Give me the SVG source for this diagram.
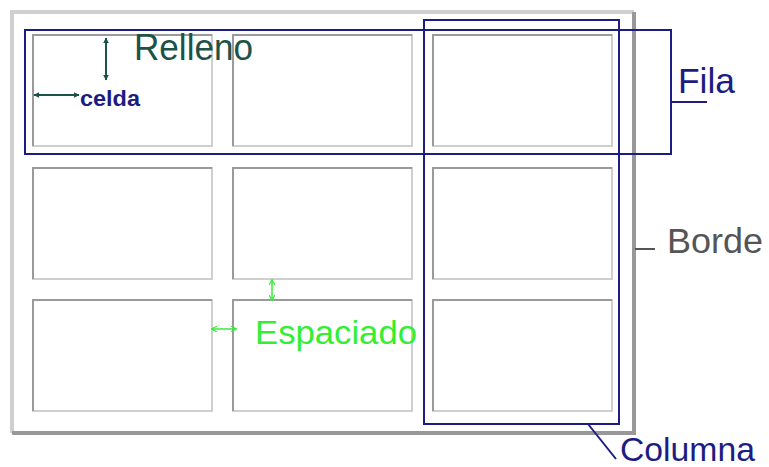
<svg xmlns="http://www.w3.org/2000/svg" width="769" height="467" viewBox="0 0 769 467">
<style>
.lt{fill:none;stroke:#d0d0d0;stroke-width:4}
.dk{fill:none;stroke:#989898;stroke-width:4}
.cl{fill:#fff;stroke:#cfcfcf;stroke-width:2}
.cd{fill:none;stroke:#9a9a9a;stroke-width:2}
.blue{fill:none;stroke:#1c1c82;stroke-width:2}
.t{font-family:"Liberation Sans",Arial,sans-serif}
.ar{fill:none;stroke:#1d5248;stroke-width:2}
.ag{fill:none;stroke:#33ee33;stroke-width:1.5}
</style>
<defs>
<marker id="mt" viewBox="0 0 10 10" refX="9" refY="5" markerWidth="6" markerHeight="6" orient="auto-start-reverse" markerUnits="userSpaceOnUse">
<path d="M0,0 L10,5 L0,10 Z" fill="#1d5248"/>
</marker>
<marker id="mg" viewBox="0 0 10 10" refX="9" refY="5" markerWidth="6" markerHeight="6" orient="auto-start-reverse" markerUnits="userSpaceOnUse">
<path d="M0,0 L10,5 L0,10" fill="none" stroke="#33ee33" stroke-width="2"/>
</marker>
<g id="cell">
<rect class="cl" x="0" y="0" width="179" height="111"/>
<path class="cd" d="M0,111 V0 H179"/>
</g>
</defs>
<rect width="769" height="467" fill="#fff"/>
<g id="table">
<path class="lt" d="M12,433 V12 H634"/>
<path class="dk" d="M634,12 V433 H12"/>
</g>
<g id="cells">
<use href="#cell" x="33" y="35"/>
<use href="#cell" x="233" y="35"/>
<use href="#cell" x="433" y="35"/>
<use href="#cell" x="33" y="168"/>
<use href="#cell" x="233" y="168"/>
<use href="#cell" x="433" y="168"/>
<use href="#cell" x="33" y="300"/>
<use href="#cell" x="233" y="300"/>
<use href="#cell" x="433" y="300"/>
</g>
<g id="fila-rect"><rect class="blue" x="25" y="30" width="646" height="124"/></g>
<g id="columna-rect"><rect class="blue" x="424" y="20" width="195" height="404"/></g>
<g id="connectors">
<line class="ar" x1="106" y1="38" x2="106" y2="80" marker-start="url(#mt)" marker-end="url(#mt)"/>
<line class="ar" x1="34" y1="95" x2="79" y2="95" marker-start="url(#mt)" marker-end="url(#mt)"/>
<line class="ag" x1="272" y1="280" x2="272" y2="300" marker-start="url(#mg)" marker-end="url(#mg)"/>
<line class="ag" x1="212" y1="329" x2="236" y2="329" marker-start="url(#mg)" marker-end="url(#mg)"/>
<polyline fill="none" stroke="#1c1c82" stroke-width="2" points="671,102 707,102"/>
<line x1="635" y1="249" x2="655" y2="249" stroke="#555" stroke-width="2"/>
<line x1="588" y1="424" x2="616" y2="459" stroke="#1c1c82" stroke-width="2"/>
</g>
<g id="labels">
<text id="relleno" class="t" x="134" y="60" font-size="37" fill="#1d5248" textLength="119" lengthAdjust="spacingAndGlyphs">Relleno</text>
<text id="celda" class="t" x="80" y="106" font-size="22" font-weight="bold" fill="#1c1c82" textLength="60" lengthAdjust="spacingAndGlyphs">celda</text>
<text id="fila" class="t" x="678" y="93" font-size="35" fill="#1c1c82" textLength="57" lengthAdjust="spacingAndGlyphs">Fila</text>
<text id="borde" class="t" x="667" y="253" font-size="35" fill="#555" textLength="96" lengthAdjust="spacingAndGlyphs">Borde</text>
<text id="espaciado" class="t" x="255" y="344" font-size="34" fill="#33ee33" textLength="162" lengthAdjust="spacingAndGlyphs">Espaciado</text>
<text id="columna" class="t" x="620" y="461" font-size="33" fill="#1c1c82" textLength="135" lengthAdjust="spacingAndGlyphs">Columna</text>
</g>
</svg>
